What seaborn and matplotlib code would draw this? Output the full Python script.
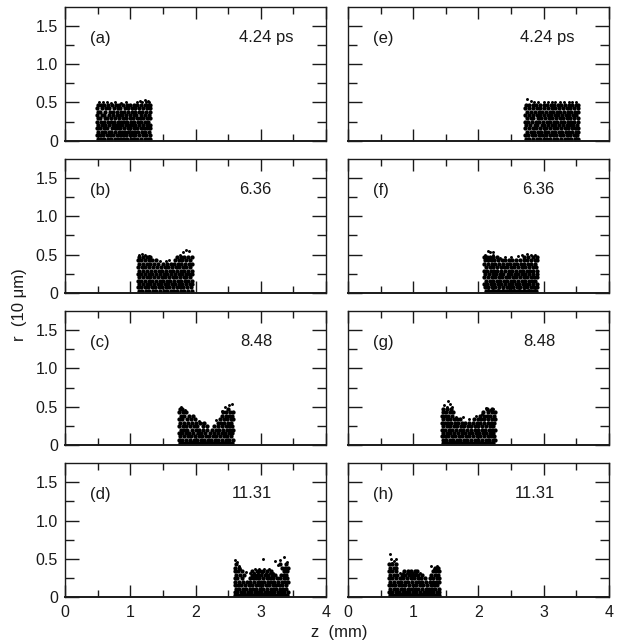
import pandas as pd
import matplotlib.pyplot as plt
import seaborn as sns
from matplotlib.ticker import FixedLocator, FixedFormatter

sns.set_style('ticks')
plt.rcParams['font.family'] = ['Liberation Sans', 'DejaVu Sans']

# macroparticle positions, in hundredths (z mm, r 10 um)
r_levels = [2, 7, 11, 16, 20, 25, 29, 34, 38, 43, 47]

a_rows = [
    [50, 55, 60, 66, 70, 76, 81, 86, 90, 95, 101, 106, 111, 116, 122, 127, 131],
    [49, 53, 58, 64, 69, 73, 79, 84, 89, 93, 99, 104, 108, 114, 119, 124, 130],
    [50, 56, 61, 67, 71, 77, 82, 87, 92, 97, 102, 107, 112, 118, 123, 128],
    [49, 54, 60, 65, 72, 76, 80, 85, 91, 96, 100, 105, 110, 116, 121, 126, 131],
    [51, 57, 62, 68, 74, 78, 83, 88, 94, 98, 103, 108, 113, 119, 125, 130],
    [49, 55, 59, 66, 70, 75, 81, 86, 90, 95, 101, 106, 112, 117, 122, 127],
    [50, 53, 61, 64, 71, 77, 83, 89, 93, 99, 104, 110, 115, 120, 126, 131],
    [49, 56, 60, 67, 73, 79, 84, 88, 94, 100, 105, 109, 116, 123, 128],
    [51, 54, 62, 69, 74, 80, 86, 91, 96, 102, 107, 113, 118, 124, 130],
    [49, 57, 63, 68, 75, 81, 85, 92, 97, 103, 108, 114, 120, 125, 131],
    [50, 55, 60, 66, 72, 78, 83, 89, 95, 100, 106, 111, 117, 122, 127, 130],
]
a_extra_z = [52, 58, 65, 71, 77, 86, 93, 110, 118, 124, 129, 115, 122, 127]
a_extra_r = [50, 50, 50, 49, 50, 49, 50, 50, 50, 51, 50, 52, 53, 52]

b_rows = [
    [113, 118, 124, 129, 135, 140, 146, 151, 156, 162, 167, 172, 178, 183, 189, 194],
    [112, 117, 122, 127, 133, 138, 144, 149, 155, 160, 165, 171, 176, 181, 187, 193],
    [114, 120, 125, 131, 136, 142, 147, 153, 158, 164, 169, 174, 180, 185, 191, 195],
    [112, 116, 123, 128, 134, 139, 145, 150, 157, 161, 167, 173, 178, 184, 188, 194],
    [113, 119, 126, 130, 137, 143, 148, 154, 159, 165, 170, 176, 182, 186, 192],
    [112, 117, 122, 129, 133, 140, 146, 152, 156, 163, 168, 174, 179, 185, 190, 195],
    [114, 120, 125, 132, 138, 144, 149, 155, 161, 166, 172, 177, 183, 188, 194],
    [112, 118, 123, 128, 135, 141, 147, 153, 158, 164, 170, 175, 181, 186, 192],
    [113, 119, 126, 131, 137, 143, 150, 156, 162, 167, 173, 178, 184, 190, 195],
    [112, 116, 122, 128, 134, 140, 168, 174, 180, 185, 191],
    [114, 120, 125, 131, 172, 178, 183, 189, 194],
]
b_extra_z = [113, 118, 123, 128, 176, 181, 186, 190, 145, 155, 160]
b_extra_r = [50, 51, 49, 48, 50, 53, 56, 54, 42, 41, 43]

c_rows = [
    [176, 180, 184, 188, 192, 196, 200, 204, 208, 212, 216, 220, 224, 228, 232, 236, 240, 244, 248, 252, 256],
    [175, 180, 186, 191, 197, 202, 208, 213, 219, 224, 230, 235, 241, 246, 252, 257],
    [176, 182, 188, 193, 199, 205, 210, 216, 221, 227, 232, 238, 243, 249, 254],
    [175, 179, 185, 190, 196, 204, 209, 215, 222, 228, 234, 240, 245, 251, 256],
    [177, 183, 187, 194, 200, 206, 212, 218, 225, 231, 236, 242, 248, 253, 257],
    [175, 181, 186, 192, 198, 203, 211, 217, 229, 235, 241, 247, 252, 256],
    [176, 182, 189, 195, 201, 207, 213, 234, 239, 244, 250, 255],
    [175, 180, 187, 193, 199, 237, 243, 248, 254, 257],
    [177, 183, 190, 196, 240, 246, 251, 256],
    [175, 181, 186, 242, 247, 253, 257],
    [176, 179, 250],
]
c_extra_z = [178, 184, 245, 251, 256, 240, 232, 205, 211, 178, 186, 194, 202, 210, 218, 226, 234, 242, 250]
c_extra_r = [49, 45, 49, 52, 53, 44, 33, 31, 29, 4, 4, 4, 4, 4, 4, 4, 4, 4, 4]

d_rows = [
    [261, 265, 269, 273, 277, 281, 285, 289, 293, 297, 301, 305, 309, 313, 317, 321, 325, 329, 333, 337, 340],
    [260, 264, 270, 275, 280, 285, 291, 296, 301, 306, 311, 316, 321, 326, 331, 336, 341],
    [262, 267, 272, 278, 283, 288, 293, 299, 304, 309, 315, 320, 324, 329, 334, 339],
    [260, 265, 270, 276, 282, 287, 292, 297, 302, 308, 313, 318, 323, 328, 333, 338],
    [261, 267, 273, 279, 284, 289, 295, 300, 305, 311, 316, 321, 327, 332, 337, 341],
    [260, 264, 271, 283, 288, 293, 298, 303, 309, 314, 319, 325, 330, 335, 340],
    [262, 268, 274, 286, 291, 296, 301, 306, 311, 317, 322, 331, 336, 339],
    [260, 265, 271, 286, 294, 299, 304, 309, 316, 335, 340],
    [261, 267, 333, 337, 341],
    [262, 330, 338],
    [],
]
d_extra_z = [261, 263, 266, 268, 303, 322, 329, 336, 340, 326, 290, 315, 277, 263, 271, 279, 287, 295, 303, 311, 319, 327,
             335, 284, 289, 296, 302, 308, 314, 319, 291, 298, 305, 312]
d_extra_r = [49, 46, 41, 37, 50, 47, 48, 52, 46, 42, 32, 31, 33, 4, 4, 4, 4, 4, 4, 4, 4, 4,
             4, 32, 32, 32, 32, 32, 32, 32, 36, 36, 36, 36]

e_rows = [
    [273, 278, 284, 289, 294, 300, 305, 310, 316, 321, 327, 332, 337, 342, 348, 353],
    [272, 276, 282, 287, 293, 298, 303, 309, 314, 319, 325, 330, 335, 341, 346, 351],
    [274, 280, 285, 291, 296, 302, 307, 312, 318, 323, 328, 334, 339, 344, 350, 353],
    [272, 277, 283, 288, 294, 300, 304, 310, 316, 321, 326, 332, 337, 343, 348, 352],
    [273, 279, 286, 290, 297, 301, 307, 313, 318, 324, 329, 335, 340, 345, 351],
    [272, 276, 282, 288, 293, 299, 305, 310, 315, 320, 326, 331, 337, 342, 347, 353],
    [275, 281, 284, 291, 296, 302, 308, 313, 319, 325, 330, 336, 341, 346, 352],
    [272, 278, 283, 289, 295, 300, 306, 311, 317, 322, 328, 334, 339, 345, 350],
    [274, 280, 286, 292, 297, 303, 309, 314, 320, 325, 331, 337, 342, 348, 353],
    [272, 277, 284, 290, 295, 301, 307, 312, 318, 323, 329, 335, 340, 346, 352],
    [273, 278, 283, 288, 294, 300, 305, 311, 316, 322, 327, 333, 338, 344, 349, 353],
]
e_extra_z = [275, 281, 285, 291, 300, 312, 325, 338, 350, 306, 318, 331, 344]
e_extra_r = [55, 52, 51, 50, 50, 51, 50, 51, 50, 50, 50, 50, 50]

f_rows = [
    [212, 216, 220, 224, 228, 232, 236, 240, 244, 248, 252, 256, 260, 264, 268, 272, 276, 280, 284, 288],
    [210, 215, 221, 226, 232, 237, 243, 248, 253, 259, 264, 269, 275, 280, 285, 290],
    [209, 213, 219, 224, 230, 235, 241, 246, 251, 257, 262, 268, 273, 278, 284, 289],
    [211, 217, 222, 228, 233, 239, 244, 250, 255, 260, 266, 271, 277, 282, 287],
    [209, 214, 220, 225, 231, 236, 242, 247, 253, 258, 264, 269, 274, 280, 285, 290],
    [210, 216, 222, 227, 233, 238, 245, 250, 256, 261, 267, 272, 278, 283, 289],
    [209, 213, 219, 224, 229, 235, 240, 246, 252, 257, 263, 268, 274, 279, 284, 290],
    [211, 217, 222, 228, 234, 239, 244, 250, 255, 261, 266, 272, 277, 283, 288],
    [209, 215, 220, 226, 231, 237, 243, 248, 254, 259, 265, 270, 276, 281, 287],
    [210, 214, 219, 224, 230, 236, 241, 247, 252, 258, 264, 269, 275, 280, 286, 290],
    [209, 213, 218, 223, 228, 270, 276, 283, 289],
]
f_extra_z = [210, 214, 218, 222, 233, 240, 250, 260, 266, 274, 281, 286, 222, 214, 222, 230, 238, 246, 254, 262, 270, 278, 286]
f_extra_r = [50, 55, 53, 50, 45, 47, 47, 48, 50, 51, 50, 49, 53, 4, 4, 4, 4, 4, 4, 4, 4, 4, 4]

g_rows = [
    [146, 150, 154, 158, 162, 166, 170, 174, 178, 182, 186, 190, 194, 198, 202, 206, 210, 214, 218, 222],
    [145, 150, 156, 161, 167, 172, 178, 183, 189, 194, 200, 205, 211, 216, 222, 225],
    [144, 148, 153, 159, 164, 170, 175, 181, 186, 192, 197, 203, 208, 214, 219, 224],
    [146, 152, 157, 163, 168, 174, 179, 185, 190, 196, 201, 207, 212, 218, 223],
    [144, 149, 155, 160, 166, 172, 177, 183, 188, 194, 199, 205, 210, 216, 221, 225],
    [145, 151, 156, 162, 167, 173, 178, 184, 189, 195, 200, 206, 212, 217, 223],
    [144, 148, 153, 158, 164, 169, 175, 180, 186, 191, 197, 203, 208, 214, 219, 224],
    [146, 151, 157, 162, 167, 172, 193, 199, 204, 209, 215, 220, 225],
    [144, 149, 154, 159, 203, 208, 213, 218, 224],
    [145, 150, 156, 161, 207, 214, 220, 225],
    [146, 152, 158, 213, 221],
]
g_extra_z = [147, 151, 157, 153, 160, 177, 185, 196, 212, 218, 223, 205, 165, 148, 156, 164, 172, 180, 188, 196, 204, 212, 220]
g_extra_r = [52, 50, 53, 58, 49, 36, 34, 38, 48, 46, 47, 40, 37, 4, 4, 4, 4, 4, 4, 4, 4, 4, 4]

h_rows = [
    [65, 69, 73, 77, 81, 85, 89, 93, 97, 101, 105, 109, 113, 117, 121, 125, 129, 133, 137, 140],
    [63, 68, 73, 78, 84, 89, 94, 100, 105, 110, 116, 121, 126, 131, 136, 140],
    [64, 70, 75, 81, 86, 92, 97, 103, 108, 113, 119, 124, 129, 134, 139],
    [63, 67, 72, 78, 83, 88, 94, 99, 105, 110, 115, 121, 127, 132, 137],
    [65, 70, 76, 82, 87, 92, 98, 104, 109, 114, 120, 125, 130, 135, 140],
    [63, 68, 74, 80, 85, 90, 96, 101, 107, 112, 118, 126, 131, 136, 139],
    [64, 70, 75, 83, 88, 93, 98, 103, 108, 113, 128, 133, 138],
    [63, 67, 73, 86, 92, 97, 102, 106, 131, 135, 139],
    [65, 70, 74, 134, 138],
    [63, 68, 73],
    [],
]
h_extra_z = [65, 66, 74, 71, 68, 128, 137, 135, 132, 138, 66, 74, 82, 90, 98, 106, 114, 122, 130, 138, 80, 85, 90, 95, 100,
             105, 110]
h_extra_r = [56, 50, 50, 47, 44, 40, 41, 35, 37, 37, 4, 4, 4, 4, 4, 4, 4, 4, 4, 4, 32, 32, 32, 32, 32, 32, 32]

panel_labels = ['(a)', '(b)', '(c)', '(d)', '(e)', '(f)', '(g)', '(h)']
time_labels = ['4.24 ps', '6.36', '8.48', '11.31', '4.24 ps', '6.36', '8.48', '11.31']
time_x = [2.66, 2.67, 2.68, 2.55, 2.63, 2.67, 2.68, 2.55]

all_rows = [a_rows, b_rows, c_rows, d_rows, e_rows, f_rows, g_rows, h_rows]
all_extra_z = [a_extra_z, b_extra_z, c_extra_z, d_extra_z, e_extra_z, f_extra_z, g_extra_z, h_extra_z]
all_extra_r = [a_extra_r, b_extra_r, c_extra_r, d_extra_r, e_extra_r, f_extra_r, g_extra_r, h_extra_r]


def make_frame(rows):
    z = []
    r = []
    for level, row in zip(r_levels, rows):
        z += row
        r += [level] * len(row)
    return pd.DataFrame({'z': z, 'r': r}) / 100


fig, axes = plt.subplots(4, 2, figsize=(6.19, 6.41), dpi=100)
fig.subplots_adjust(left=65 / 619, right=609 / 619, top=1 - 6.5 / 641, bottom=1 - 597 / 641,
                    wspace=0.084, hspace=0.134)

for i, ax in enumerate(axes.T.flatten()):
    # body of the cloud, then the smaller strays and edge particles
    df = make_frame(all_rows[i])
    df_extra = pd.DataFrame({'z': all_extra_z[i], 'r': all_extra_r[i]}) / 100
    sns.scatterplot(data=df, x='z', y='r', ax=ax, color='black', s=9.5, linewidth=0, clip_on=False)
    sns.scatterplot(data=df_extra, x='z', y='r', ax=ax, color='black', s=4.5, linewidth=0, clip_on=False)

    ax.set_xlim(0, 4)
    ax.set_ylim(0, 1.755)
    ax.set_xlabel('')
    ax.set_ylabel('')

    # ticks point inward on all four sides
    ax.xaxis.set_major_locator(FixedLocator([0, 1, 2, 3, 4]))
    ax.xaxis.set_minor_locator(FixedLocator([0.5, 1.5, 2.5, 3.5]))
    ax.yaxis.set_major_locator(FixedLocator([0, 0.5, 1.0, 1.5]))
    ax.yaxis.set_minor_locator(FixedLocator([0.25, 0.75, 1.25]))
    ax.tick_params(which='both', direction='in', top=True, right=True, bottom=True, left=True,
                   width=1.0, color='#1a1a1a', labelsize=11.5, labelcolor='#1a1a1a')
    ax.tick_params(axis='x', which='major', length=8.5, pad=6)
    ax.tick_params(axis='x', which='minor', length=5)
    ax.tick_params(axis='y', which='major', length=10, pad=5)
    ax.tick_params(axis='y', which='minor', length=6.5)

    if i < 4:
        ax.yaxis.set_major_formatter(FixedFormatter(['0', '0.5', '1.0', '1.5']))
    else:
        ax.set_yticklabels([])
    if i in (3, 7):
        ax.xaxis.set_major_formatter(FixedFormatter(['0', '1', '2', '3', '4']))
    else:
        ax.set_xticklabels([])

    for spine in ax.spines.values():
        spine.set_visible(True)
        spine.set_linewidth(1.0)
        spine.set_color('#1a1a1a')
    ax.spines['bottom'].set_linewidth(1.4)

    ax.text(0.38, 1.34, panel_labels[i], fontsize=12, va='center', color='#1a1a1a')
    ax.text(time_x[i], 1.35, time_labels[i], fontsize=12, va='center', color='#1a1a1a')

fig.text(20 / 619, 1 - 305 / 641, 'r  (10 \u03bcm)', rotation=90, fontsize=12, ha='center', va='center', color='#1a1a1a')
fig.text(339 / 619, 1 - 632 / 641, 'z  (mm)', fontsize=12, ha='center', va='center', color='#1a1a1a')

fig.savefig('out.png', dpi=100)
